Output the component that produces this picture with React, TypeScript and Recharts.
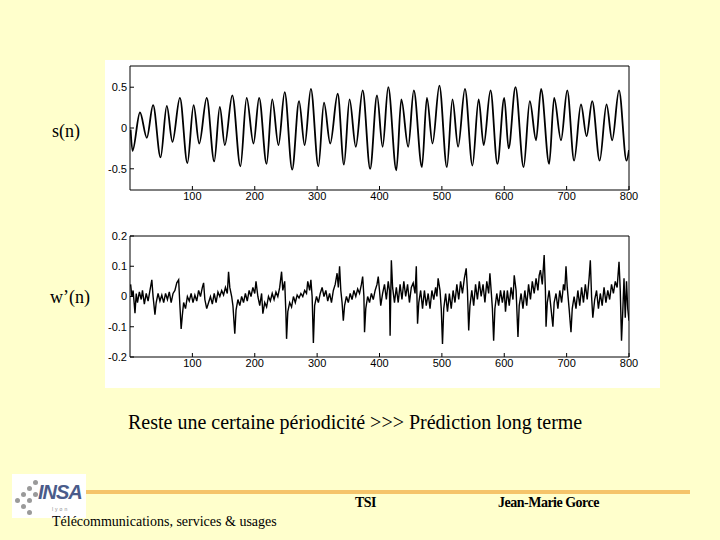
import { LineChart, Line, XAxis, YAxis } from 'recharts'

// s(n): turning points, [n, value]
const S_POINTS: [number, number][] = [
  [1, -0.02], [4, -0.28], [16, 0.19], [27, -0.12], [37, 0.28], [49, -0.36], [59, 0.27], [68, -0.17],
  [80, 0.37], [92, -0.43], [102, 0.28], [111, -0.19], [123, 0.37], [135, -0.41], [144, 0.26], [152, -0.21],
  [164, 0.4], [177, -0.47], [187, 0.37], [198, -0.19], [207, 0.37], [219, -0.44], [228, 0.35], [238, -0.21],
  [248, 0.44], [260, -0.51], [271, 0.33], [280, -0.21], [290, 0.48], [302, -0.47], [311, 0.31], [321, -0.19],
  [333, 0.42], [343, -0.45], [352, 0.35], [362, -0.23], [373, 0.46], [385, -0.5], [396, 0.4], [405, -0.23],
  [414, 0.5], [427, -0.52], [435, 0.35], [446, -0.23], [455, 0.46], [468, -0.48], [476, 0.37], [485, -0.19],
  [496, 0.52], [508, -0.48], [517, 0.35], [526, -0.23], [537, 0.48], [549, -0.46], [559, 0.35], [567, -0.21],
  [578, 0.46], [589, -0.44], [600, 0.37], [607, -0.25], [618, 0.5], [631, -0.48], [641, 0.33], [651, -0.15],
  [659, 0.48], [672, -0.44], [680, 0.37], [691, -0.15], [701, 0.46], [712, -0.4], [723, 0.29], [732, -0.1],
  [741, 0.33], [753, -0.4], [764, 0.29], [773, -0.15], [784, 0.46], [796, -0.4], [800, -0.27],
]

// w'(n): residual, read in four stretches of 200 samples
const W_PART1: [number, number][] = [
  [1, 0.04], [3, 0.0], [5, 0.02], [8, -0.055], [10, 0.01], [12, -0.02], [15, 0.015], [18, -0.01], [20, 0.02],
  [23, -0.025], [26, 0.01], [29, -0.015], [32, 0.02], [35, 0.055], [37, 0.0], [40, -0.06], [42, -0.02], [45, 0.01],
  [48, -0.015], [51, 0.005], [54, -0.02], [57, 0.01], [60, -0.01], [63, 0.015], [66, -0.02], [69, 0.01], [72, 0.02],
  [75, 0.045], [78, 0.055], [80, -0.03], [82, -0.107], [84, -0.06], [86, -0.02], [89, -0.04], [92, 0.0], [95, -0.015],
  [98, 0.01], [101, -0.02], [104, 0.005], [107, -0.015], [110, 0.02], [113, 0.0], [116, 0.03], [118, 0.045], [120, -0.01],
  [123, -0.04], [126, -0.02], [129, 0.0], [132, -0.025], [135, 0.01], [138, -0.02], [141, 0.015], [144, 0.0], [147, 0.02],
  [150, 0.005], [153, 0.03], [156, 0.01], [158, 0.082], [160, 0.03], [163, 0.0], [165, -0.03], [168, -0.123], [170, -0.045],
  [173, -0.01], [176, -0.03], [179, 0.0], [182, -0.02], [185, 0.01], [188, -0.015], [191, 0.02], [194, 0.0], [197, 0.03],
  [200, 0.01],
]
const W_PART2: [number, number][] = [
  [202, 0.05], [205, 0.0], [208, -0.03], [211, 0.01], [213, -0.057], [216, -0.02], [219, -0.035], [222, 0.0], [225, -0.015],
  [228, 0.01], [231, -0.01], [234, 0.015], [237, 0.0], [240, 0.03], [243, 0.082], [245, 0.02], [248, 0.05], [250, -0.06],
  [251, -0.14], [253, -0.05], [256, -0.02], [259, -0.035], [262, 0.0], [265, -0.02], [268, 0.005], [271, -0.005], [274, 0.01],
  [277, 0.0], [280, 0.02], [283, 0.01], [285, 0.05], [288, 0.02], [290, 0.055], [292, 0.0], [294, -0.154], [296, -0.03],
  [299, 0.0], [302, -0.02], [305, 0.01], [308, 0.03], [311, 0.0], [314, 0.02], [317, -0.015], [320, 0.01], [323, -0.02],
  [326, 0.02], [329, 0.04], [332, 0.077], [334, 0.03], [336, 0.1], [338, 0.02], [340, -0.02], [342, -0.08], [344, -0.03],
  [347, 0.0], [350, -0.02], [353, 0.01], [356, -0.01], [359, 0.02], [362, 0.0], [365, 0.025], [368, 0.01], [371, 0.04],
  [373, 0.066], [375, 0.0], [376, -0.118], [378, -0.04], [381, 0.0], [384, -0.02], [387, 0.01], [390, -0.01], [393, 0.02],
  [396, 0.04], [398, 0.066],
]
const W_PART3: [number, number][] = [
  [400, 0.02], [402, -0.03], [405, 0.01], [408, 0.04], [411, -0.01], [414, 0.05], [416, 0.02], [417, -0.13], [418, 0.0],
  [419, 0.12], [421, 0.03], [424, -0.02], [427, 0.03], [430, -0.02], [433, 0.04], [436, -0.01], [439, 0.05], [442, 0.0],
  [445, 0.04], [448, -0.02], [451, 0.03], [454, 0.045], [457, 0.01], [459, 0.1], [461, -0.09], [463, -0.02], [466, 0.02],
  [469, -0.04], [472, 0.02], [475, -0.03], [478, 0.01], [481, -0.04], [484, 0.02], [487, -0.01], [490, 0.03], [492, 0.0],
  [494, 0.06], [497, 0.02], [499, -0.04], [501, -0.157], [503, -0.04], [506, 0.01], [509, -0.05], [512, 0.01], [515, -0.04],
  [518, 0.02], [521, -0.02], [524, 0.04], [527, -0.01], [530, 0.05], [533, 0.01], [536, 0.06], [539, 0.093], [541, 0.02],
  [543, -0.112], [545, -0.03], [548, 0.02], [551, -0.03], [554, 0.04], [557, -0.01], [560, 0.05], [563, 0.0], [566, 0.04],
  [569, -0.02], [572, 0.05], [575, 0.01], [577, 0.077], [579, 0.02], [581, -0.04], [583, -0.146], [585, -0.04], [588, 0.01],
  [591, -0.03], [594, 0.02], [597, -0.02], [600, 0.02],
]
const W_PART4: [number, number][] = [
  [602, -0.05], [605, 0.02], [608, -0.03], [611, 0.03], [614, -0.01], [616, 0.07], [619, 0.02], [622, -0.134], [624, -0.03],
  [627, 0.01], [630, -0.04], [633, 0.02], [636, -0.03], [639, 0.04], [642, -0.01], [645, 0.05], [648, 0.01], [651, 0.06],
  [654, 0.02], [656, 0.07], [658, 0.087], [661, 0.04], [664, 0.137], [666, 0.02], [667, -0.1], [669, -0.02], [672, 0.02],
  [675, -0.04], [678, -0.1], [680, -0.02], [683, 0.01], [686, -0.04], [689, 0.02], [692, -0.02], [695, 0.04], [697, 0.02],
  [699, 0.1], [701, 0.03], [704, -0.04], [707, -0.118], [709, -0.04], [712, 0.0], [715, -0.04], [718, 0.02], [721, -0.03],
  [724, 0.03], [727, -0.02], [730, 0.04], [733, -0.01], [736, 0.06], [738, 0.12], [740, 0.0], [742, -0.07], [745, -0.01],
  [748, 0.02], [751, -0.04], [754, 0.01], [757, -0.03], [760, 0.03], [763, -0.02], [766, 0.02], [769, -0.01], [772, 0.04],
  [775, 0.01], [778, 0.05], [781, 0.03], [784, 0.115], [786, 0.02], [788, -0.146], [790, -0.05], [792, 0.06], [794, -0.07],
  [796, 0.05], [798, -0.04], [800, -0.08],
]

const X_TICKS = [100, 200, 300, 400, 500, 600, 700, 800]
const S_TICKS = [-0.5, 0, 0.5]
const W_TICKS = [-0.2, -0.1, 0, 0.1, 0.2]

const sData = S_POINTS.map(([n, v]) => ({ n, v }))
const wData = [...W_PART1, ...W_PART2, ...W_PART3, ...W_PART4].map(([n, v]) => ({ n, v }))

const tickFont = { fontSize: 11, fill: '#000', fontFamily: 'Liberation Sans, Arial, sans-serif' }
const black = { stroke: '#000', strokeWidth: 1 }
const serif = 'Liberation Serif, "Times New Roman", serif'

function Panel({ data, yDomain, yTicks, height, strokeWidth, type }: {
  data: { n: number; v: number }[]
  yDomain: [number, number]
  yTicks: number[]
  height: number
  strokeWidth: number
  type: 'monotone' | 'linear'
}) {
  return (
    <LineChart width={560} height={height} data={data} margin={{ top: 9, right: 31, bottom: 0, left: 0 }}>
      <XAxis xAxisId="b" dataKey="n" type="number" domain={[0, 800]} allowDataOverflow ticks={X_TICKS} stroke="#000"
        tickSize={-4} tickMargin={6} height={17} axisLine={black} tickLine={black} tick={tickFont} />
      <XAxis xAxisId="t" orientation="top" dataKey="n" type="number" domain={[0, 800]} allowDataOverflow stroke="#000"
        ticks={X_TICKS} mirror height={1} tickSize={4} tick={false} axisLine={black} tickLine={black} />
      <YAxis yAxisId="l" type="number" domain={yDomain} allowDataOverflow ticks={yTicks} width={30} stroke="#000"
        tickSize={-4} tickMargin={7} axisLine={black} tickLine={black} tick={tickFont} />
      <YAxis yAxisId="r" orientation="right" type="number" domain={yDomain} allowDataOverflow ticks={yTicks} stroke="#000"
        mirror width={1} tickSize={4} tick={false} axisLine={black} tickLine={black} />
      {/* invisible copy so the top and right frame axes get drawn */}
      <Line xAxisId="t" yAxisId="r" type={type} dataKey="v" stroke="none" dot={false} isAnimationActive={false} />
      <Line xAxisId="b" yAxisId="l" type={type} dataKey="v" stroke="#000" strokeWidth={strokeWidth}
        dot={false} isAnimationActive={false} />
    </LineChart>
  )
}

const abs = (left: number, top: number): React.CSSProperties => ({ position: 'absolute', left, top })

export default function App() {
  return (
    <div style={{ position: 'absolute', left: 0, top: 0, width: 720, height: 540, background: '#FFFFCC', overflow: 'hidden', fontFamily: serif }}>
      <div style={{ ...abs(105, 60), width: 555, height: 328, background: '#fff' }} />
      <div style={abs(100, 57)}>
        <Panel data={sData} yDomain={[-0.76, 0.76]} yTicks={S_TICKS} height={150} strokeWidth={1.8} type="monotone" />
      </div>
      <div style={abs(100, 227)}>
        <Panel data={wData} yDomain={[-0.2, 0.2]} yTicks={W_TICKS} height={147} strokeWidth={1.4} type="linear" />
      </div>

      <div style={{ ...abs(52, 120), fontSize: 18, lineHeight: '22px' }}>s(n)</div>
      <div style={{ ...abs(50, 286), fontSize: 18, lineHeight: '22px' }}>w’(n)</div>
      <div style={{ ...abs(128, 410), fontSize: 20, lineHeight: '24px' }}>
        Reste une certaine périodicité &gt;&gt;&gt; Prédiction long terme
      </div>

      <div style={{ ...abs(86, 490), width: 604, height: 4, background: '#F5C46A' }} />
      <div style={{ ...abs(12, 474), width: 74, height: 44, background: '#fff' }}>
        {[[3, 24], [9, 18], [15, 12], [21, 6], [9, 30], [15, 24], [21, 18], [15, 36]].map(([x, y], i) => (
          <div key={i} style={{ position: 'absolute', left: x, top: y, width: 5, height: 5, borderRadius: 3, background: '#9a9a9a' }} />
        ))}
        <div style={{ position: 'absolute', left: 26, top: 7, fontSize: 20, fontWeight: 900, fontStyle: 'italic', color: '#4a5b8a', fontFamily: 'Liberation Sans, Arial, sans-serif', letterSpacing: -1 }}>INSA</div>
        <div style={{ position: 'absolute', left: 40, top: 32, fontSize: 5, color: '#888', fontFamily: 'Liberation Sans, Arial, sans-serif', letterSpacing: 2 }}>lyon</div>
      </div>
      <div style={{ ...abs(355, 494), fontSize: 14, fontWeight: 'bold', lineHeight: '18px', letterSpacing: -0.5 }}>TSI</div>
      <div style={{ ...abs(498, 494), fontSize: 14, fontWeight: 'bold', lineHeight: '18px', letterSpacing: -0.5 }}>Jean-Marie Gorce</div>
      <div style={{ ...abs(52, 513), fontSize: 14, lineHeight: '18px' }}>Télécommunications, services &amp; usages</div>
    </div>
  )
}
